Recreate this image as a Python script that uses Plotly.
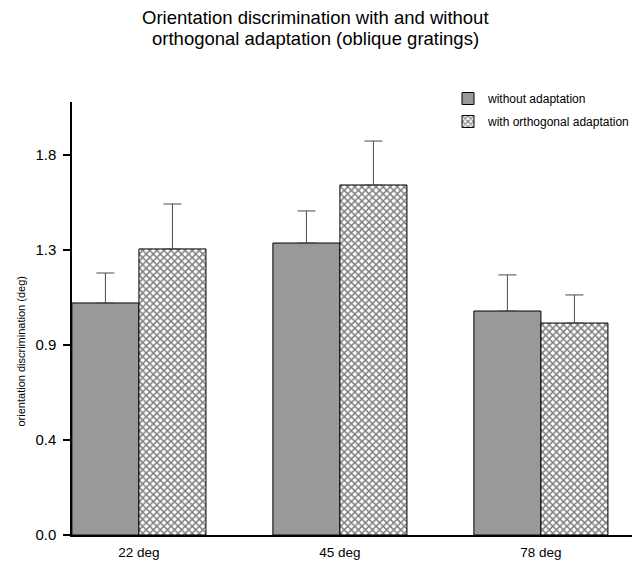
import plotly.graph_objects as go

categories = ["22 deg", "45 deg", "78 deg"]
without_vals = [1.099, 1.383, 1.061]
without_err = [0.142, 0.152, 0.171]
with_vals = [1.355, 1.658, 1.004]
with_err = [0.213, 0.208, 0.133]
ytick_vals = [0, 0.45, 0.9, 1.35, 1.8]
ytick_text = ["0.0", "0.4", "0.9", "1.3", "1.8"]
title_lines = ["Orientation discrimination with and without",
               "orthogonal adaptation (oblique gratings)"]

FONT = "Arial, Liberation Sans, Helvetica, sans-serif"
# page has an 8px body margin, so the figure is drawn 8px smaller and offset
W, H = 632, 554
left, right, top, bottom = 64, 0, 94, 27
pw = W - left - right
ph = H - top - bottom


def px_x(x):
    return (x - left) / pw


def px_y(y):
    return 1 - (y - top) / ph


fig = go.Figure()
fig.add_trace(go.Bar(
    x=categories, y=without_vals, name="without adaptation", legendgroup="a",
    marker=dict(color="#999999", line=dict(color="black", width=1)),
    error_y=dict(type="data", array=without_err, arrayminus=[0, 0, 0],
                 symmetric=False, color="#4a4a4a", thickness=1, width=9),
))
fig.add_trace(go.Bar(
    x=categories, y=with_vals, name="with orthogonal adaptation", legendgroup="b",
    marker=dict(color="white", line=dict(color="black", width=1),
                pattern=dict(shape="x", fgcolor="black", bgcolor="white",
                             size=5, solidity=0.5)),
    error_y=dict(type="data", array=with_err, arrayminus=[0, 0, 0],
                 symmetric=False, color="#4a4a4a", thickness=1, width=9),
))

fig.update_layout(
    width=W, height=H,
    margin=dict(l=left, r=right, t=top, b=bottom, autoexpand=False),
    paper_bgcolor="white", plot_bgcolor="white",
    barmode="group", bargap=0.333, bargroupgap=0,
    font=dict(family=FONT, color="black"),
    showlegend=True,
    legend=dict(x=px_x(440), xanchor="left",
                y=px_y(76), yanchor="top",
                font=dict(size=12, family=FONT), bgcolor="rgba(0,0,0,0)",
                tracegroupgap=4, itemwidth=30),
    xaxis=dict(range=[-0.333, 2.493], showline=True, linecolor="black", linewidth=1.5,
               ticks="", showgrid=False, zeroline=False, ticklabelstandoff=4,
               tickfont=dict(size=13.5, family=FONT), automargin=False),
    yaxis=dict(range=[0, 2.051], showline=True, linecolor="black", linewidth=1.5,
               ticks="outside", ticklen=7, tickcolor="black", tickwidth=1.5,
               tickvals=ytick_vals, ticktext=ytick_text, ticklabelstandoff=4,
               showgrid=False, zeroline=False,
               tickfont=dict(size=15, family=FONT), automargin=False),
    annotations=[
        dict(text=title_lines[0], x=px_x(307), y=px_y(9.5), xref="paper", yref="paper",
             xanchor="center", yanchor="middle", showarrow=False, borderpad=0,
             font=dict(size=18.5, family=FONT)),
        dict(text=title_lines[1], x=px_x(307), y=px_y(30.5), xref="paper", yref="paper",
             xanchor="center", yanchor="middle", showarrow=False, borderpad=0,
             font=dict(size=18.5, family=FONT)),
        dict(text="orientation discrimination (deg)", textangle=-90,
             x=px_x(12.5), xref="paper", y=px_y(344), yref="paper",
             xanchor="center", yanchor="middle",
             showarrow=False, font=dict(size=11, family=FONT)),
    ],
)

fig.write_html("out.html")
